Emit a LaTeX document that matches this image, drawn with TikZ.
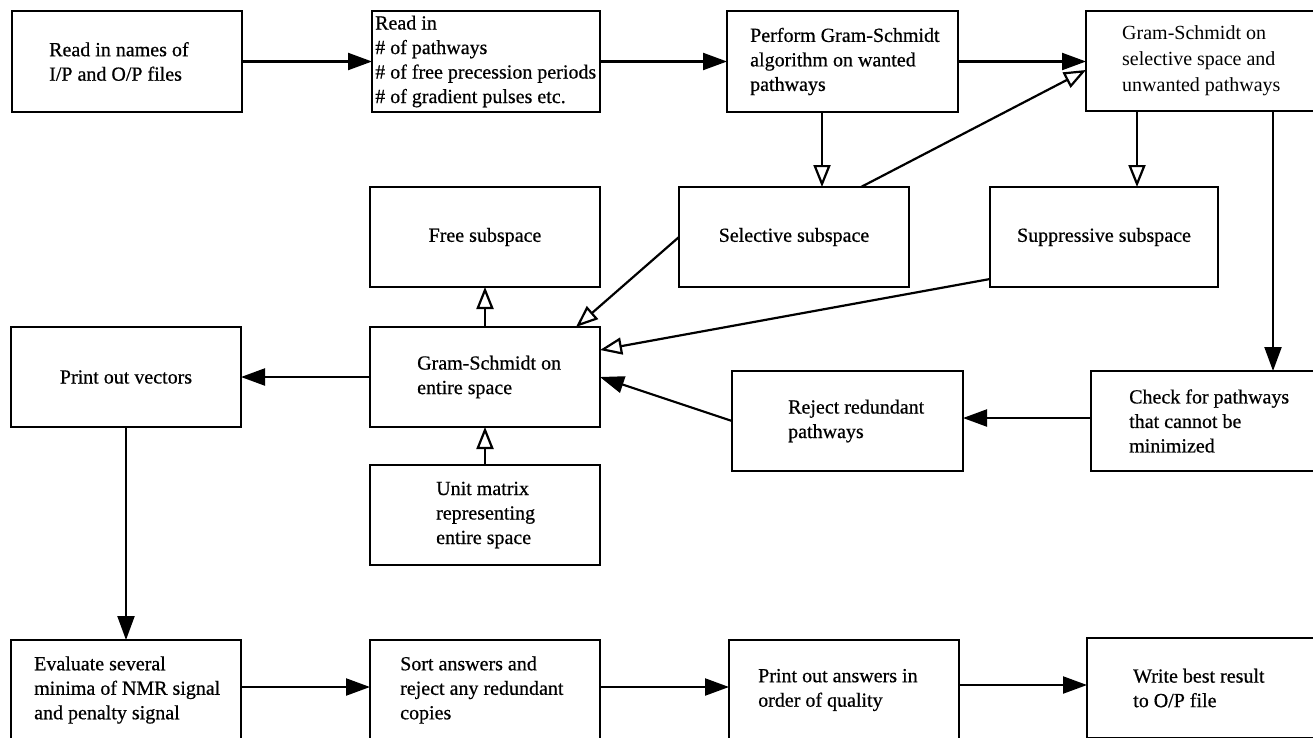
\documentclass[tikz,border=0pt]{standalone}
\usepackage{fontspec}
\setmainfont{Liberation Serif}[FakeBold=0.6]
\newfontfamily\lightfont{Liberation Serif}
\usetikzlibrary{arrows.meta}
\begin{document}
\begin{tikzpicture}[x=1pt,y=-1pt,
  box/.style={draw, line width=2.4pt, minimum width=230pt, minimum height=100pt, inner sep=0pt, outer sep=0pt},
  txt/.style={inner sep=0pt, align=left, anchor=west, font=\fontsize{20}{24.5}\selectfont},
  ctxt/.style={inner sep=0pt, align=center, font=\fontsize{20}{24.5}\selectfont},
  fl/.style={line width=2.2pt, -{Triangle[length=24pt,width=17pt]}},
  ho/.style={line width=2.2pt, -{Triangle[open,length=22pt,width=17pt]}},
]
\useasboundingbox (0,0) rectangle (1313,737);
\clip (0,0) rectangle (1313,737);

% row 1
\node[box, minimum height=101pt] (A) at (127,61.5) {};
\node[box, minimum height=101pt, minimum width=228pt] (B) at (486,61.5) {};
\node[box, minimum height=101pt, minimum width=231pt] (C) at (842.5,61.5) {};
\node[box] (D) at (1201,61) {};
% row 2
\node[box] (E) at (485,237) {};
\node[box] (I) at (794,237) {};
\node[box, minimum width=228pt] (J) at (1104,237) {};
% row 3
\node[box] (G) at (126,377) {};
\node[box] (F) at (485,377) {};
\node[box, minimum width=231pt] (L) at (847.5,421) {};
\node[box] (K) at (1206,421) {};
% row 4
\node[box] (H) at (485,515) {};
% row 5
\node[box] (M) at (126,690) {};
\node[box] (N) at (485,690) {};
\node[box] (O) at (844,690) {};
\node[box] (P) at (1202,688) {};

% texts
\node[txt] (At) at ([xshift=37pt]A.west) {Read in names of\\I/P and O/P files};
\node[txt] (Bt) at ([xshift=3pt]B.west) {Read in\\\# of pathways\\\# of free precession periods\\\# of gradient pulses etc.};
\node[txt] (Ct) at ([xshift=23pt]C.west) {Perform Gram-Schmidt\\algorithm on wanted\\pathways};
\node[txt, font=\lightfont\fontsize{20}{26}\selectfont] (Dt) at ([xshift=36pt]D.west) {Gram-Schmidt on\\selective space and\\unwanted pathways};
\node[ctxt] (Et) at (E.center) {Free subspace};
\node[ctxt] (It) at (I.center) {Selective subspace};
\node[ctxt] (Jt) at (J.center) {Suppressive subspace};
\node[ctxt] (Gt) at (G.center) {Print out vectors};
\node[txt] (Ft) at ([xshift=47pt]F.west) {Gram-Schmidt on\\entire space};
\node[txt] (Lt) at ([xshift=56pt]L.west) {Reject redundant\\pathways};
\node[txt] (Kt) at ([xshift=38pt]K.west) {Check for pathways\\that cannot be\\minimized};
\node[txt] (Ht) at ([xshift=66pt]H.west) {Unit matrix\\representing\\entire space};
\node[txt] (Mt) at ([xshift=23pt]M.west) {Evaluate several\\minima of NMR signal\\and penalty signal};
\node[txt] (Nt) at ([xshift=30pt]N.west) {Sort answers and\\reject any redundant\\copies};
\node[txt] (Ot) at ([xshift=29pt]O.west) {Print out answers in\\order of quality};
\node[txt] (Pt) at ([xshift=46pt]P.west) {Write best result\\to O/P file};

% connectors
\draw[fl] (A.east) -- (B.west);
\draw[fl] (B.east) -- (C.west);
\draw[fl] (C.east) -- (C.east -| D.west);
\draw[ho] ([xshift=-20.5pt]C.south) -- ([xshift=-20.5pt]C.south |- I.north);
\draw[ho] ([xshift=-64pt]D.south) -- ([xshift=-64pt]D.south |- J.north);
\draw[fl] ([xshift=72pt]D.south) -- ([xshift=72pt]D.south |- K.north);
\draw[ho] ([xshift=67pt]I.north) -- ([yshift=-9pt]D.west);
\draw[ho] (I.west) -- ([xshift=91pt]F.north);
\draw[ho] ([yshift=-42pt]J.west) -- ([yshift=27pt]F.east);
\draw[fl] ([yshift=3pt]K.west) -- ([yshift=3pt]K.west -| L.east);
\draw[fl] (L.west) -- (F.east);
\draw[fl] (F.west) -- (G.east);
\draw[ho] (F.north) -- (E.south);
\draw[ho] (H.north) -- (F.south);
\draw[fl] (G.south) -- (M.north);
\draw[fl] ([yshift=3pt]M.east) -- ([yshift=3pt]N.west);
\draw[fl] ([yshift=3pt]N.east) -- ([yshift=3pt]O.west);
\draw[fl] ([yshift=5pt]O.east) -- ([yshift=5pt]O.east -| P.west);
\end{tikzpicture}
\end{document}
